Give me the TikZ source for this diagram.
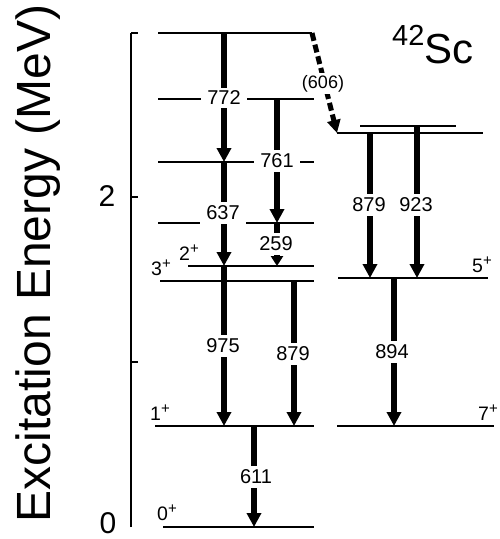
\documentclass[tikz,border=0pt]{standalone}
\usepackage{fontspec}
\setmainfont{Liberation Sans}
\usetikzlibrary{arrows.meta}
\newcommand{\plusup}{\raisebox{6.5pt}{\fontsize{15}{15}\selectfont +}}
\tikzset{
  lvl/.style={line width=1.4pt},
  gam/.style={-{Triangle[length=14pt,width=14pt]}, line width=6pt},
  gsm/.style={-{Triangle[length=10pt,width=12pt]}, line width=6pt},
  gdash/.style={-{Triangle[length=13pt,width=13pt]}, line width=5pt, dash pattern=on 8pt off 4pt},
  gl/.style={fill=white, font=\fontsize{20}{20}\selectfont, inner xsep=6pt, inner ysep=3.5pt},
  jp/.style={anchor=base west, inner sep=0pt, font=\fontsize{19.5}{20}\selectfont},
  axl/.style={font=\fontsize{30}{30}\selectfont, inner sep=0pt}
}

\begin{document}
\begin{tikzpicture}[x=1pt, y=-1pt]
  \useasboundingbox (0,0) rectangle (499,539);
  % energy axis
  \coordinate (ax0) at (131,527);
  \coordinate (ax3) at (131,33);
  \draw[lvl] (ax0) -- (ax3);
  \foreach \y in {33,197,362}
    \draw[lvl] (131,\y) -- (138,\y);
  \node[axl] (e2) at (107,196) {2};
  \node[axl] (e0) at (108,523) {0};
  \node[rotate=90, anchor=base, inner sep=0pt, font=\fontsize{48}{48}\selectfont] (ytitle) at (50,263.5) {Excitation Energy (MeV)};
  \node[anchor=base west, inner sep=0pt, font=\fontsize{42}{42}\selectfont] (nucl) at (392,63) {\raisebox{18pt}{\fontsize{29}{29}\selectfont 42}Sc};
  % levels
  \foreach \n/\xa/\xb/\y in {0/163/314/527, 611/155/314/426, 1490/160/314/281, 1586/188/314/266,
      1845/158/314/223, 2224/158/314/162, 2594/158/314/99, 2996/158/312/33,
      617/337/494/426, 1511/338/488/278, 2390/337/483/133, 2434/360/456/126} {
    \coordinate (lv\n a) at (\xa,\y);
    \coordinate (lv\n b) at (\xb,\y);
    \draw[lvl] (lv\n a) -- (lv\n b);
  }
  % spins
  \node[jp] (j0) at (157,520) {0\plusup};
  \node[jp] (j611) at (150,420) {1\plusup};
  \node[jp] (j1490) at (151,275) {3\plusup};
  \node[jp] (j1586) at (179,260) {2\plusup};
  \node[jp] (j1511) at (472,272) {5\plusup};
  \node[jp] (j617) at (478,420) {7\plusup};
  % transitions
  \draw[gam] (224,0 |- lv2996a) -- (224,0 |- lv2224a);
  \draw[gam] (224,0 |- lv2224a) -- (224,0 |- lv1586a);
  \draw[gam] (224,0 |- lv1586a) -- (224,0 |- lv611a);
  \draw[gam] (277,0 |- lv2594a) -- (277,0 |- lv1845a);
  \draw[gsm] (277,0 |- lv1845a) -- (277,0 |- lv1586a);
  \draw[gam] (294,0 |- lv1490a) -- (294,0 |- lv611a);
  \draw[gam] (254,0 |- lv611a) -- (254,0 |- lv0a);
  \draw[gam] (370,0 |- lv2390a) -- (370,0 |- lv1511a);
  \draw[gam] (417,0 |- lv2434a) -- (417,0 |- lv1511a);
  \draw[gam] (394,0 |- lv1511a) -- (394,0 |- lv617a);
  \draw[gdash] (lv2996b) -- (lv2390a);
  % gamma energies
  \node[gl] (g772) at (224,98) {772};
  \node[gl] (g761) at (277,161) {761};
  \node[gl] (g637) at (223,213) {637};
  \node[gl] (g259) at (276,244) {259};
  \node[gl] (g975) at (223,346) {975};
  \node[gl] (g879a) at (293,354) {879};
  \node[gl] (g611) at (256,477) {611};
  \node[gl] (g879b) at (369,205) {879};
  \node[gl] (g923) at (416,205) {923};
  \node[gl] (g894) at (392,352) {894};
  \node[gl, anchor=base, inner ysep=2pt, inner xsep=1pt, font=\fontsize{18}{18}\selectfont] (g606) at (323,88) {(606)};
\end{tikzpicture}
\end{document}
